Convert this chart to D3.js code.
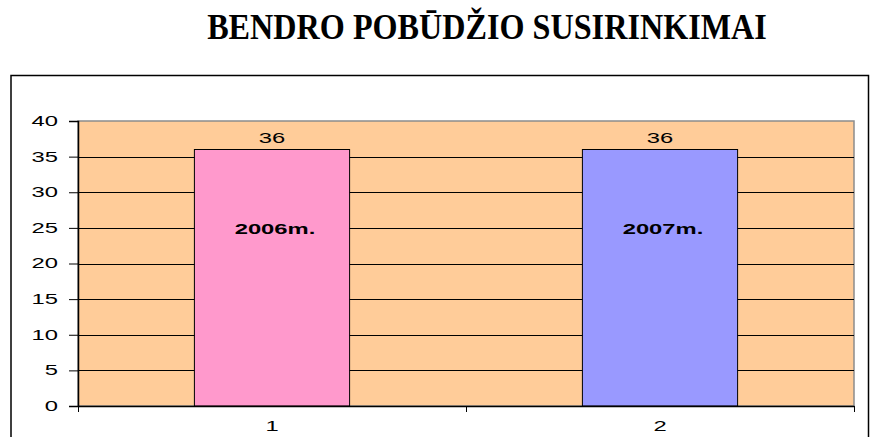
<!DOCTYPE html>
<html>
<head>
<meta charset="utf-8">
<script src="https://cdn.jsdelivr.net/npm/d3@7"></script>
<style>
  body { margin: 0; background: #fff; }
  svg { display: block; }
</style>
</head>
<body>
<div id="chart"></div>
<script>
var categories = ["1", "2"];
var values = [36, 36];
var barLabels = ["2006m.", "2007m."];
var barColors = ["#FF99CC", "#9999FF"];
var yTicks = [0, 5, 10, 15, 20, 25, 30, 35, 40];

var W = 881, H = 437;
var plot = { left: 78, right: 854, top: 121, bottom: 406 };
var sx = 1.7; // the original labels are stretched sideways
var sans = "'Liberation Sans', Arial, sans-serif";

var svg = d3.select("#chart").append("svg")
  .attr("width", W).attr("height", H);

// title
svg.append("text")
  .attr("transform", "translate(487,39) scale(0.92,1)")
  .attr("text-anchor", "middle")
  .style("font-family", "'Liberation Serif', 'Times New Roman', serif")
  .style("font-weight", "bold")
  .style("font-size", "35px")
  .text("BENDRO POBŪDŽIO SUSIRINKIMAI");

// chart area frame
svg.append("rect")
  .attr("x", 11).attr("y", 75.5)
  .attr("width", 857.5).attr("height", 380)
  .attr("fill", "#fff").attr("stroke", "#000").attr("stroke-width", 1.5);

var x = d3.scaleBand().domain(categories)
  .range([plot.left, plot.right])
  .paddingInner(0.6).paddingOuter(0.3);
var xCat = d3.scaleBand().domain(categories).range([plot.left, plot.right]);
var y = d3.scaleLinear().domain([0, 40]).range([plot.bottom, plot.top]);

// plot background
svg.append("rect")
  .attr("x", plot.left).attr("y", plot.top)
  .attr("width", plot.right - plot.left).attr("height", plot.bottom - plot.top)
  .attr("fill", "#FFCC99")
  .attr("stroke", "#8c8c8c").attr("stroke-width", 1.5);

// gridlines
svg.append("g").selectAll("line")
  .data(yTicks.filter(function(d) { return d > 0 && d < 40; }))
  .enter().append("line")
  .attr("x1", plot.left).attr("x2", plot.right)
  .attr("y1", function(d) { return Math.round(y(d)) + 0.5; })
  .attr("y2", function(d) { return Math.round(y(d)) + 0.5; })
  .attr("stroke", "#000").attr("stroke-width", 1);

// bars
svg.append("g").selectAll("rect")
  .data(values)
  .enter().append("rect")
  .attr("x", function(d, i) { return x(categories[i]); })
  .attr("y", function(d) { return y(d); })
  .attr("width", x.bandwidth())
  .attr("height", function(d) { return y(0) - y(d); })
  .attr("fill", function(d, i) { return barColors[i]; })
  .attr("stroke", "#000").attr("stroke-width", 1);

// value labels
svg.append("g").selectAll("text")
  .data(values)
  .enter().append("text")
  .attr("transform", function(d, i) {
    return "translate(" + (x(categories[i]) + x.bandwidth() / 2) + "," + (y(d) - 7) + ") scale(" + sx + ",1)";
  })
  .attr("text-anchor", "middle")
  .style("font-family", sans)
  .style("font-size", "14px")
  .text(function(d) { return d; });

// inside labels
svg.append("g").selectAll("text")
  .data(values)
  .enter().append("text")
  .attr("transform", function(d, i) {
    return "translate(" + (x(categories[i]) + x.bandwidth() / 2 + 3) + "," + (y(d) + 84.5) + ") scale(" + sx + ",1)";
  })
  .attr("text-anchor", "middle")
  .style("font-family", sans)
  .style("font-size", "14px")
  .style("font-weight", "bold")
  .text(function(d, i) { return barLabels[i]; });

// y axis
var yAxis = svg.append("g")
  .attr("transform", "translate(" + plot.left + ",0)")
  .call(d3.axisLeft(y).tickValues(yTicks).tickSize(9));
yAxis.select(".domain").attr("stroke", "#000").attr("stroke-width", 1.5);
yAxis.selectAll(".tick line").attr("stroke", "#000");
yAxis.selectAll("text")
  .attr("x", 0)
  .attr("transform", "translate(-20,0) scale(" + sx + ",1)")
  .style("font-family", sans)
  .style("font-size", "14px").attr("fill", "#000");

// x axis
var xAxis = svg.append("g")
  .attr("transform", "translate(0," + plot.bottom + ")")
  .call(d3.axisBottom(xCat).tickSize(0));
xAxis.select(".domain").attr("stroke", "#000").attr("stroke-width", 1.5);
xAxis.selectAll("text")
  .attr("y", 0).attr("dy", null)
  .attr("transform", "translate(0,25) scale(" + sx + ",1)")
  .style("font-family", sans)
  .style("font-size", "14px").attr("fill", "#000");
// category separator ticks
xAxis.append("g").selectAll("line")
  .data([plot.left, xCat(categories[1]), plot.right])
  .enter().append("line")
  .attr("x1", function(d) { return Math.round(d) + 0.5; })
  .attr("x2", function(d) { return Math.round(d) + 0.5; })
  .attr("y1", 0).attr("y2", 6)
  .attr("stroke", "#000");
</script>
</body>
</html>
